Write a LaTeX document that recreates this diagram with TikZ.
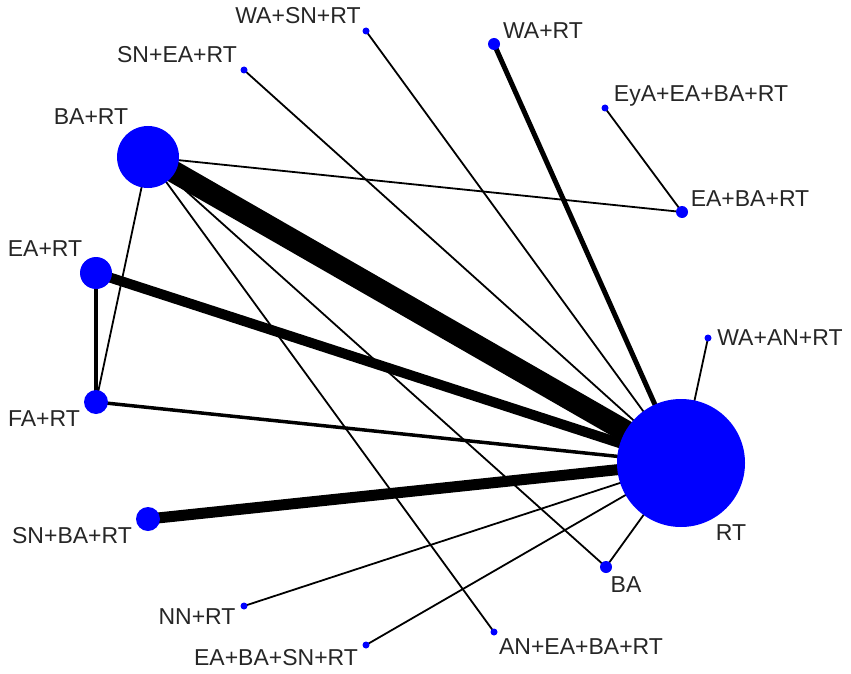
\documentclass[tikz,border=0pt]{standalone}
\usepackage{fontspec}
\setmainfont{Liberation Sans}
\usetikzlibrary{backgrounds}
\begin{document}
\begin{tikzpicture}[x=1pt,y=-1pt,
  trt/.style={circle,fill=blue,inner sep=0pt,minimum size=#1},
  lab/.style={font=\fontsize{23}{23}\selectfont,text=black!85,inner sep=0pt},
  edge/.style={line width=#1,black}]
\useasboundingbox (0,0) rectangle (851,674);
% treatment nodes
\node[trt=128] (RT) at (681,463) {};
\node[trt=62] (BART) at (148,157) {};
\node[trt=32] (EART) at (96,273) {};
\node[trt=24] (FART) at (96,402) {};
\node[trt=24] (SNBART) at (148,519) {};
\node[trt=7] (NNRT) at (244,606) {};
\node[trt=7] (EABASNRT) at (366,645) {};
\node[trt=7] (ANEABART) at (494,632) {};
\node[trt=12] (BA) at (606,567) {};
\node[trt=7] (WAANRT) at (708,338) {};
\node[trt=12] (EABART) at (682,212) {};
\node[trt=7] (EyAEABART) at (605,108) {};
\node[trt=12] (WART) at (494,44) {};
\node[trt=7] (WASNRT) at (366,31) {};
\node[trt=7] (SNEART) at (244,70) {};
% labels
\node[lab] (lRT) at (731,533) {RT};
\node[lab] (lBART) at (91,117) {BA+RT};
\node[lab] (lEART) at (45,249) {EA+RT};
\node[lab] (lFART) at (44,419) {FA+RT};
\node[lab] (lSNBART) at (72,536) {SN+BA+RT};
\node[lab] (lNNRT) at (197,617) {NN+RT};
\node[lab] (lEABASNRT) at (276,658) {EA+BA+SN+RT};
\node[lab] (lANEABART) at (581,647) {AN+EA+BA+RT};
\node[lab] (lBA) at (626,585) {BA};
\node[lab] (lWAANRT) at (780,338) {WA+AN+RT};
\node[lab] (lEABART) at (750,199) {EA+BA+RT};
\node[lab] (lEyAEABART) at (701,96) {EyA+EA+BA+RT};
\node[lab] (lWART) at (543,31) {WA+RT};
\node[lab] (lWASNRT) at (298,16) {WA+SN+RT};
\node[lab] (lSNEART) at (177,55) {SN+EA+RT};
% connectors
\begin{pgfonlayer}{background}
\draw[edge=22] (BART.center) -- (RT.center);
\draw[edge=10] (EART.center) -- (RT.center);
\draw[edge=11] (SNBART.center) -- (RT.center);
\draw[edge=3.5] (FART.center) -- (RT.center);
\draw[edge=4] (EART.center) -- (FART.center);
\draw[edge=5] (WART.center) -- (RT.center);
\draw[edge=1.8] (BART.center) -- (FART.center);
\draw[edge=1.8] (BART.center) -- (EABART.center);
\draw[edge=1.8] (BART.center) -- (BA.center);
\draw[edge=1.8] (BART.center) -- (ANEABART.center);
\draw[edge=1.8] (WASNRT.center) -- (RT.center);
\draw[edge=1.8] (SNEART.center) -- (RT.center);
\draw[edge=1.8] (EyAEABART.center) -- (EABART.center);
\draw[edge=1.8] (WAANRT.center) -- (RT.center);
\draw[edge=1.8] (BA.center) -- (RT.center);
\draw[edge=1.8] (NNRT.center) -- (RT.center);
\draw[edge=1.8] (EABASNRT.center) -- (RT.center);
\end{pgfonlayer}
\end{tikzpicture}
\end{document}
